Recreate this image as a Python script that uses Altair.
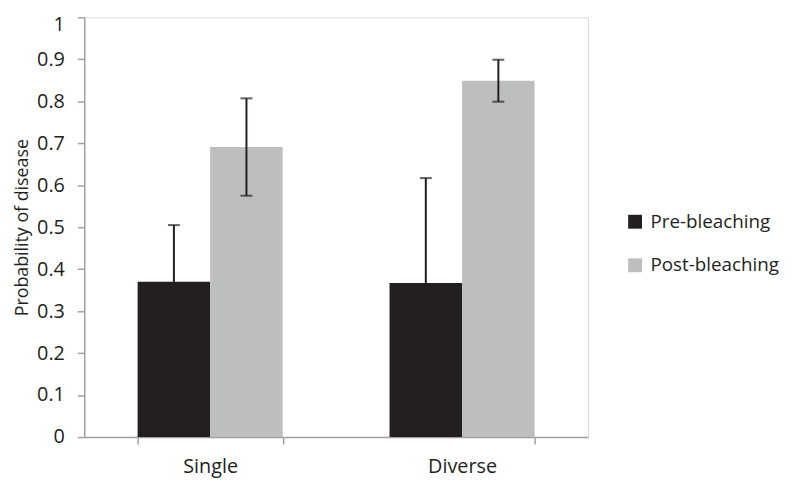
import altair as alt
import pandas as pd

groups = ["Single", "Single", "Diverse", "Diverse"]
series = ["Pre-bleaching", "Post-bleaching", "Pre-bleaching", "Post-bleaching"]
values = [0.370, 0.691, 0.367, 0.849]
errors = [0.135, 0.116, 0.250, 0.050]

group_order = ["Single", "Diverse"]
series_order = ["Pre-bleaching", "Post-bleaching"]
series_colors = ["#231f20", "#bcbec0"]
y_ticks = [0, 0.1, 0.2, 0.3, 0.4, 0.5, 0.6, 0.7, 0.8, 0.9, 1.0]

df = pd.DataFrame({"group": groups, "series": series, "value": values, "err": errors})
df["lo"] = df["value"] - df["err"]
df["hi"] = df["value"] + df["err"]

FONT = "Open Sans"
TXT = "#231f20"
AX = "#a0a0a0"

x_enc = alt.X(
    "group:N",
    sort=group_order,
    scale=alt.Scale(paddingInner=0.424, paddingOuter=0.212),
    axis=alt.Axis(
        title=None, labelAngle=0, tickBand="extent", tickSize=7, labelPadding=13,
        labelFontSize=20, labelFont=FONT, labelColor=TXT,
        domainColor=AX, tickColor=AX, domainWidth=1.5, tickWidth=1.5,
    ),
)
xoff = alt.XOffset("series:N", sort=series_order, scale=alt.Scale(paddingInner=0, paddingOuter=0))
y_scale = alt.Scale(domain=[0, 1], nice=False)

bars = alt.Chart(df).mark_bar().encode(
    x=x_enc,
    xOffset=xoff,
    y=alt.Y(
        "value:Q",
        scale=y_scale,
        axis=alt.Axis(
            title="Probability of disease", values=y_ticks, format=".1~f", grid=False,
            tickSize=7, labelPadding=13, labelFontSize=20, labelFont=FONT, labelColor=TXT,
            labelOffset={"condition": {"test": "datum.value == 1", "value": 7}, "value": 0},
            titleFont=FONT, titleFontSize=18, titleFontWeight="normal", titleColor=TXT,
            titlePadding=5, domainColor=AX, tickColor=AX, domainWidth=1.5, tickWidth=1.5,
        ),
    ),
    color=alt.Color(
        "series:N",
        sort=series_order,
        scale=alt.Scale(domain=series_order, range=series_colors),
        legend=alt.Legend(
            title=None, orient="none", legendX=547, legendY=197,
            symbolType="square", symbolSize=196, symbolStrokeWidth=0,
            labelFont=FONT, labelFontSize=19, labelColor=TXT, labelOffset=6,
            rowPadding=24,
        ),
    ),
)

rules = alt.Chart(df).mark_rule(color="#231f20", strokeWidth=2).encode(
    x=alt.X("group:N", sort=group_order),
    xOffset=xoff,
    y=alt.Y("lo:Q", scale=y_scale),
    y2="hi:Q",
)

caps_hi = alt.Chart(df).mark_tick(color="#231f20", thickness=2, size=12).encode(
    x=alt.X("group:N", sort=group_order),
    xOffset=xoff,
    y=alt.Y("hi:Q", scale=y_scale),
)
caps_lo = alt.Chart(df).mark_tick(color="#231f20", thickness=2, size=12).encode(
    x=alt.X("group:N", sort=group_order),
    xOffset=xoff,
    y=alt.Y("lo:Q", scale=y_scale),
)

chart = alt.layer(bars, rules, caps_hi, caps_lo).properties(
    width=509,
    height=424,
    autosize=alt.AutoSizeParams(type="none"),
    padding={"left": 77, "top": 7, "right": 200, "bottom": 44},
).configure_view(stroke=None).configure(background="white")

chart.save("out.html", embed_options={"renderer": "svg", "actions": False})
